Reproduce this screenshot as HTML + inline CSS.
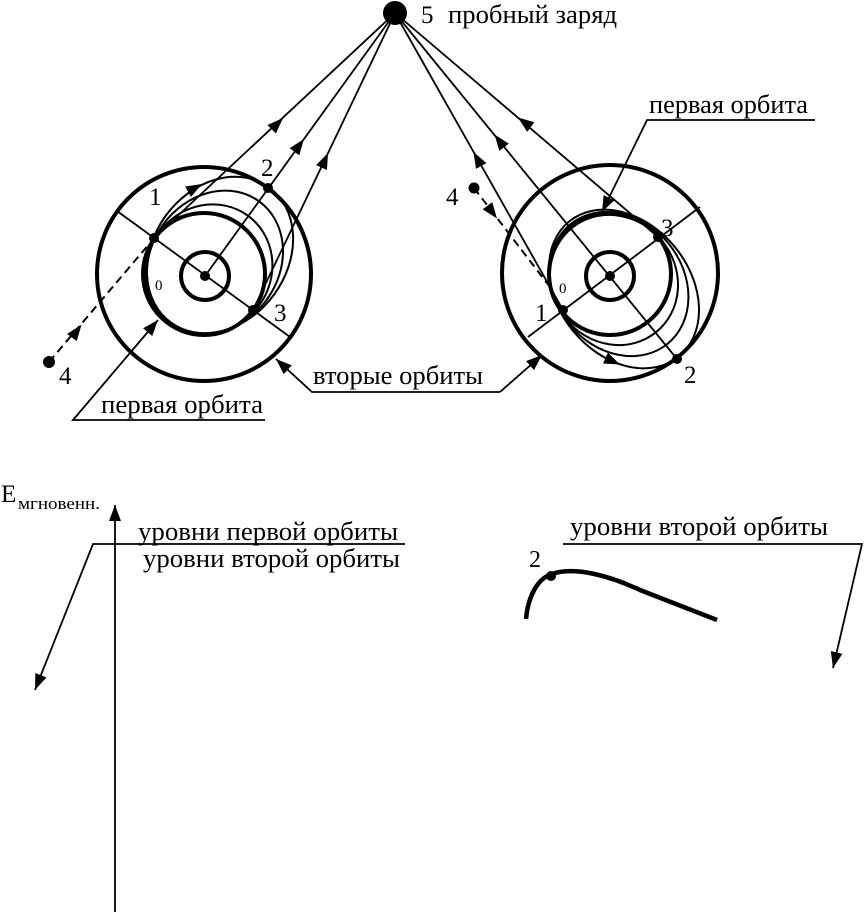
<!DOCTYPE html>
<html>
<head>
<meta charset="utf-8">
<style>
  html, body { margin:0; padding:0; background:#fff; }
  body { width:865px; height:913px; overflow:hidden; }
  svg { display:block; }
  text { font-family: "Liberation Serif", "DejaVu Serif", serif; fill:#000; }
</style>
</head>
<body>
<svg width="865" height="913" viewBox="0 0 865 913" xmlns="http://www.w3.org/2000/svg">
  <defs>
    <marker id="ah" markerUnits="userSpaceOnUse" markerWidth="17" markerHeight="13" refX="16" refY="6" orient="auto">
      <path d="M0,0 L16,6 L0,12 z" fill="#000"/>
    </marker>
  </defs>

  <!-- ===== Test charge ===== -->
  <circle cx="395" cy="13" r="12" fill="#000"/>
  <text x="421" y="23" font-size="25">5</text>
  <text x="448" y="23" font-size="26" textLength="169" lengthAdjust="spacingAndGlyphs">пробный заряд</text>

  <!-- ===== LEFT ATOM ===== -->
  <g fill="none" stroke="#000">
    <circle cx="204" cy="274" r="107" stroke-width="4"/>
    <circle cx="204" cy="274" r="61" stroke-width="4"/>
    <circle cx="205" cy="276" r="24" stroke-width="4"/>
    <ellipse cx="220" cy="255" rx="83.5" ry="67" transform="rotate(-54 220 255)" stroke-width="2"/>
    <ellipse cx="215" cy="262" rx="75" ry="64" transform="rotate(-54 215 262)" stroke-width="2"/>
    <ellipse cx="209" cy="269" rx="66" ry="62" transform="rotate(-54 209 269)" stroke-width="2"/>
    <!-- diagonal 1-0-3 -->
    <line x1="117" y1="211" x2="290" y2="337" stroke-width="1.8"/>
    <!-- lines to charge -->
    <line x1="205" y1="276" x2="395" y2="13" stroke-width="1.8"/>
    <line x1="154" y1="238" x2="395" y2="13" stroke-width="1.8"/>
    <line x1="253" y1="310" x2="395" y2="13" stroke-width="1.8"/>
    <!-- dashed from 4 -->
    <line x1="49" y1="362" x2="150" y2="243" stroke-width="2" stroke-dasharray="8 5"/>
  </g>
  <circle cx="205" cy="276" r="5" fill="#000"/>
  <circle cx="154" cy="238" r="5" fill="#000"/>
  <circle cx="268" cy="188" r="5" fill="#000"/>
  <circle cx="253" cy="310" r="5" fill="#000"/>
  <circle cx="49" cy="362" r="6" fill="#000"/>
  <!-- mid arrows left -->
  <path d="M282.3,118.7 L283,118" stroke="none" fill="none" marker-end="url(#ah)"/>
  <path d="M303.4,139.8 L304,139" stroke="none" fill="none" marker-end="url(#ah)"/>
  <path d="M327.6,153.9 L328,153" stroke="none" fill="none" marker-end="url(#ah)"/>
  <path d="M201.1,184.5 L202,184" stroke="none" fill="none" marker-end="url(#ah)"/>
  <path d="M80.9,325.5 L81.5,324.7" stroke="none" fill="none" marker-end="url(#ah)"/>
  <!-- labels left -->
  <text x="149" y="205" font-size="25">1</text>
  <text x="261" y="176" font-size="25">2</text>
  <text x="274" y="321" font-size="25">3</text>
  <text x="59" y="384" font-size="25">4</text>
  <text x="155" y="290" font-size="15">0</text>

  <!-- ===== RIGHT ATOM ===== -->
  <g fill="none" stroke="#000">
    <circle cx="610" cy="273" r="108" stroke-width="4"/>
    <circle cx="610" cy="274" r="61" stroke-width="4"/>
    <circle cx="610" cy="276" r="24" stroke-width="4"/>
    <ellipse cx="624" cy="289" rx="87" ry="66" transform="rotate(51 624 289)" stroke-width="2"/>
    <ellipse cx="619" cy="284" rx="77" ry="64" transform="rotate(51 619 284)" stroke-width="2"/>
    <ellipse cx="614" cy="280" rx="67" ry="62" transform="rotate(51 614 280)" stroke-width="2"/>
    <!-- diagonal 1-0-3 -->
    <line x1="528" y1="337" x2="700" y2="207" stroke-width="1.8"/>
    <!-- lines to charge -->
    <line x1="395" y1="13" x2="677" y2="359" stroke-width="1.8"/>
    <line x1="395" y1="13" x2="563" y2="310" stroke-width="1.8"/>
    <line x1="395" y1="13" x2="658" y2="237" stroke-width="1.8"/>
    <!-- dashed from 4 -->
    <line x1="474" y1="188" x2="550" y2="287" stroke-width="2" stroke-dasharray="8 5"/>
  </g>
  <circle cx="610" cy="276" r="5" fill="#000"/>
  <circle cx="563" cy="310" r="5" fill="#000"/>
  <circle cx="658" cy="237" r="5" fill="#000"/>
  <circle cx="677" cy="359" r="5" fill="#000"/>
  <circle cx="474" cy="188" r="5.5" fill="#000"/>
  <!-- mid arrows right -->
  <path d="M474,152.9 L473.5,152" stroke="none" fill="none" marker-end="url(#ah)"/>
  <path d="M495.1,135.3 L494.5,134.5" stroke="none" fill="none" marker-end="url(#ah)"/>
  <path d="M518.8,118.1 L518,117.5" stroke="none" fill="none" marker-end="url(#ah)"/>
  <path d="M619.1,364.1 L620,364.5" stroke="none" fill="none" marker-end="url(#ah)"/>
  <path d="M496.4,217.7 L497,218.5" stroke="none" fill="none" marker-end="url(#ah)"/>
  <!-- labels right -->
  <text x="535" y="321" font-size="25">1</text>
  <text x="684" y="383" font-size="25">2</text>
  <text x="661" y="236" font-size="25">3</text>
  <text x="446" y="205" font-size="25">4</text>
  <text x="559" y="293" font-size="15">0</text>

  <!-- ===== Leaders ===== -->
  <g fill="none" stroke="#000" stroke-width="1.8">
    <polyline points="265,420 73,420 158,320" marker-end="url(#ah)"/>
    <polyline points="500,392 312,392 276,359" marker-end="url(#ah)"/>
    <line x1="500" y1="392" x2="542" y2="355" marker-end="url(#ah)"/>
    <polyline points="815,120 647,120 602,212" marker-end="url(#ah)"/>
  </g>
  <text x="101" y="413" font-size="26" textLength="162" lengthAdjust="spacingAndGlyphs">первая орбита</text>
  <text x="313" y="384" font-size="26" textLength="170" lengthAdjust="spacingAndGlyphs">вторые орбиты</text>
  <text x="649" y="113" font-size="26" textLength="159" lengthAdjust="spacingAndGlyphs">первая орбита</text>

  <!-- ===== Bottom graph ===== -->
  <g fill="none" stroke="#000" stroke-width="1.8">
    <line x1="115" y1="912" x2="115" y2="505" marker-end="url(#ah)"/>
    <polyline points="405,544 93,544 35,690" marker-end="url(#ah)"/>
    <polyline points="563,544 862,544 833,668" marker-end="url(#ah)"/>
  </g>
  <text x="1" y="502" font-size="25">E</text>
  <text x="18" y="509" font-size="17" textLength="82" lengthAdjust="spacingAndGlyphs">мгновенн.</text>
  <text x="138" y="540" font-size="26" textLength="260" lengthAdjust="spacingAndGlyphs">уровни первой орбиты</text>
  <text x="143" y="567" font-size="26" textLength="257" lengthAdjust="spacingAndGlyphs">уровни второй орбиты</text>
  <text x="570" y="535" font-size="26" textLength="258" lengthAdjust="spacingAndGlyphs">уровни второй орбиты</text>

  <path d="M526,619 C528,596 538,578 552,574 C575,566 610,576 640,590 L717,620" fill="none" stroke="#000" stroke-width="4.5"/>
  <circle cx="551" cy="576" r="5" fill="#000"/>
  <text x="529" y="567" font-size="24">2</text>
</svg>
</body>
</html>
